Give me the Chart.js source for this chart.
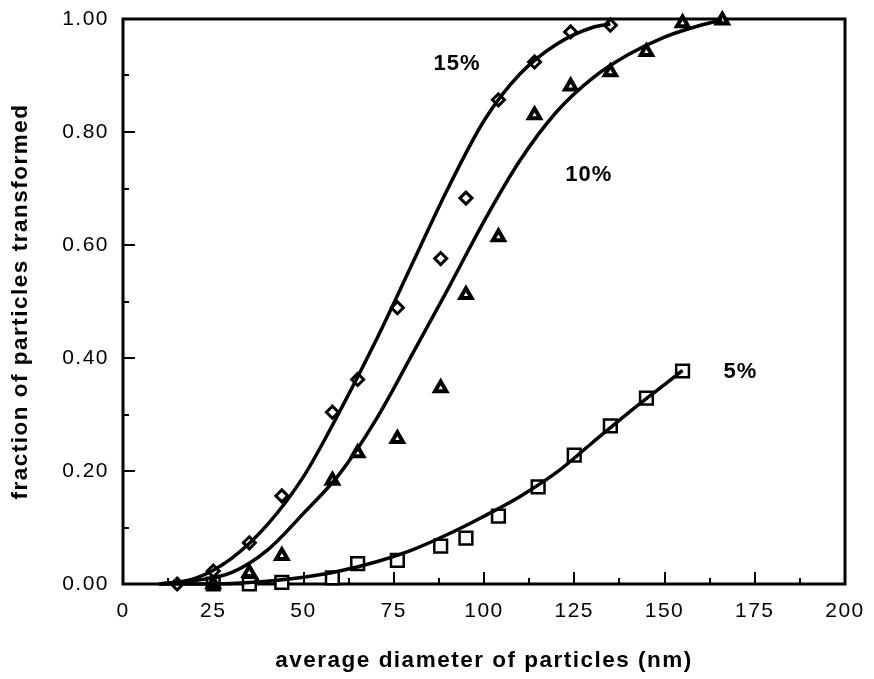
<!DOCTYPE html>
<html>
<head>
<meta charset="utf-8">
<script src="https://cdn.jsdelivr.net/npm/chart.js@4/dist/chart.umd.min.js"></script>
<style>
html,body{margin:0;padding:0;background:#fff;}
#wrap{width:874px;height:679px;}
</style>
</head>
<body>
<div id="wrap"><canvas id="c" width="874" height="679"></canvas></div>
<script>
// ---- data ----
const diam15 = [15, 25, 35, 44, 58, 65, 76, 88, 95, 104, 114, 124, 135];
const frac15 = [0.00, 0.023, 0.073, 0.156, 0.304, 0.362, 0.489, 0.576, 0.683, 0.857, 0.924, 0.977, 0.989];
const diam10 = [25, 35, 44, 58, 65, 76, 88, 95, 104, 114, 124, 135, 145, 155, 166];
const frac10 = [0.00, 0.02, 0.05, 0.183, 0.232, 0.257, 0.347, 0.512, 0.614, 0.830, 0.881, 0.906, 0.942, 0.993, 0.998];
const diam5 = [25, 35, 44, 58, 65, 76, 88, 95, 104, 115, 125, 135, 145, 155];
const frac5 = [0.00, 0.00, 0.003, 0.011, 0.036, 0.042, 0.067, 0.081, 0.120, 0.172, 0.228, 0.280, 0.329, 0.377];

// fitted curves at regular diameters
const fit15X = [10, 20, 30, 40, 50, 60, 70, 80, 90, 100, 110, 120, 130, 135];
const fit15Y = [0, 0.010, 0.045, 0.105, 0.190, 0.305, 0.430, 0.565, 0.700, 0.820, 0.903, 0.955, 0.985, 0.991];
const fit10X = [10, 20, 30, 40, 50, 60, 70, 80, 90, 100, 110, 120, 130, 140, 150, 160, 166];
const fit10Y = [0, 0.006, 0.020, 0.060, 0.125, 0.195, 0.290, 0.405, 0.522, 0.642, 0.750, 0.835, 0.895, 0.937, 0.968, 0.989, 0.998];
const fit5X = [10, 20, 30, 40, 50, 60, 70, 80, 90, 100, 110, 120, 130, 140, 150, 155];
const fit5Y = [0, 0.000, 0.001, 0.005, 0.012, 0.023, 0.039, 0.060, 0.088, 0.120, 0.155, 0.197, 0.250, 0.303, 0.353, 0.378];

const xMinorTicks = [12.5, 37.5, 62.5, 87.5, 112.5, 137.5, 162.5, 187.5];
const yMinorTicks = [0.1, 0.3, 0.5, 0.7, 0.9];

const seriesLabels = ['15%', '10%', '5%'];
const labelX = [92.5, 129, 171];
const labelY = [0.92, 0.724, 0.375];

const xTitle = 'average diameter of particles (nm)';
const yTitle = 'fraction of particles transformed';

const pts = (xs, ys) => xs.map((x, i) => ({x: x, y: ys[i]}));

const FONT = "'Liberation Sans', Arial, Helvetica, sans-serif";
const SPACING = '1.5px';

const framePlugin = {
  id: 'framePlugin',
  beforeDraw(chart) {
    chart.ctx.letterSpacing = SPACING;
  },
  beforeDatasetsDraw(chart) {
    const {ctx, chartArea: a, scales: {x, y}} = chart;
    ctx.save();
    ctx.strokeStyle = '#000';
    ctx.lineCap = 'butt';
    ctx.lineWidth = 2;
    const xMajor = x.ticks.map(t => t.value);
    const yMajor = y.ticks.map(t => t.value);
    ctx.beginPath();
    xMajor.forEach(v => { const px = Math.round(x.getPixelForValue(v)); ctx.moveTo(px, a.bottom); ctx.lineTo(px, a.bottom - 12); });
    xMinorTicks.forEach(v => { const px = Math.round(x.getPixelForValue(v)); ctx.moveTo(px, a.bottom); ctx.lineTo(px, a.bottom - 6); });
    yMajor.forEach(v => { const py = Math.round(y.getPixelForValue(v)); ctx.moveTo(a.left, py); ctx.lineTo(a.left + 12, py); });
    yMinorTicks.forEach(v => { const py = Math.round(y.getPixelForValue(v)); ctx.moveTo(a.left, py); ctx.lineTo(a.left + 6, py); });
    ctx.stroke();
    ctx.lineWidth = 3;
    ctx.strokeRect(a.left, a.top, a.right - a.left, a.bottom - a.top);
    ctx.restore();
  },
  afterDatasetsDraw(chart) {
    const {ctx, scales: {x, y}} = chart;
    ctx.save();
    ctx.letterSpacing = '1px';
    ctx.fillStyle = '#000';
    ctx.font = "bold 22px " + FONT;
    ctx.textAlign = 'center';
    ctx.textBaseline = 'middle';
    seriesLabels.forEach((s, i) => ctx.fillText(s, x.getPixelForValue(labelX[i]), y.getPixelForValue(labelY[i])));
    ctx.restore();
  }
};

const markerBase = {showLine: false, pointBackgroundColor: '#fff', pointBorderColor: '#000', clip: false};
const curveBase = {showLine: true, borderColor: '#000', borderWidth: 3.5, pointRadius: 0, pointHoverRadius: 0,
  cubicInterpolationMode: 'monotone', fill: false, clip: false};

new Chart(document.getElementById('c'), {
  type: 'scatter',
  data: {
    datasets: [
      Object.assign({label: '15% fit', data: pts(fit15X, fit15Y)}, curveBase),
      Object.assign({label: '10% fit', data: pts(fit10X, fit10Y)}, curveBase),
      Object.assign({label: '5% fit', data: pts(fit5X, fit5Y)}, curveBase),
      Object.assign({label: '15%', data: pts(diam15, frac15), pointStyle: 'rectRot', pointRadius: 6, pointBorderWidth: 3}, markerBase),
      Object.assign({label: '10%', data: pts(diam10, frac10), pointStyle: 'triangle', pointRadius: 6.5, pointBorderWidth: 4}, markerBase),
      Object.assign({label: '5%', data: pts(diam5, frac5), pointStyle: 'rect', pointRadius: 9, pointBorderWidth: 2.5}, markerBase)
    ]
  },
  options: {
    responsive: false,
    animation: false,
    events: [],
    layout: {padding: {left: 0, right: 29, top: 19, bottom: 0}},
    plugins: {legend: {display: false}, tooltip: {enabled: false}},
    scales: {
      x: {
        type: 'linear', min: 0, max: 200,
        grid: {display: false, drawTicks: false},
        border: {display: false},
        ticks: {stepSize: 25, padding: 15, color: '#000', font: {family: FONT, size: 21}, maxRotation: 0},
        title: {display: true, text: xTitle, color: '#000', font: {family: FONT, size: 22.5, weight: 'bold'}, padding: {top: 0, bottom: 5}},
        afterFit(s) { s.height = 95; s.paddingLeft = 0; s.paddingRight = 0; }
      },
      y: {
        type: 'linear', min: 0, max: 1,
        grid: {display: false, drawTicks: false},
        border: {display: false},
        ticks: {stepSize: 0.2, padding: 14, color: '#000', font: {family: FONT, size: 21},
          callback: v => Number(v).toFixed(2)},
        title: {display: true, text: yTitle, color: '#000', font: {family: FONT, size: 22.5, weight: 'bold'}, padding: {top: 7, bottom: 0}},
        afterFit(s) { s.width = 123; s.paddingTop = 0; s.paddingBottom = 0; }
      }
    }
  },
  plugins: [framePlugin]
});
</script>
</body>
</html>
